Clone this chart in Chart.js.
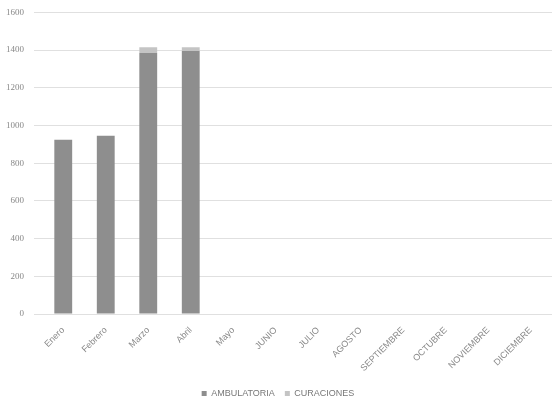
<!DOCTYPE html>
<html>
<head>
<meta charset="utf-8">
<script src="https://cdn.jsdelivr.net/npm/chart.js@4/dist/chart.umd.min.js"></script>
<style>
    html, body { margin: 0; padding: 0; background: #fff; overflow: hidden; }
    #wrap { width: 552px; height: 404px; overflow: hidden; }
    #chart { display: block; margin-top: -3px; }
</style>
</head>
<body>
<div id="wrap"><canvas id="chart" width="552" height="411"></canvas></div>
<script>
// Months as printed on the axis
const months = ['Enero', 'Febrero', 'Marzo', 'Abril', 'Mayo', 'JUNIO', 'JULIO', 'AGOSTO',
    'SEPTIEMBRE', 'OCTUBRE', 'NOVIEMBRE', 'DICIEMBRE'];

// Series values
const ambulatoria = [925, 945, 1385, 1395, null, null, null, null, null, null, null, null];
const curaciones = [0, 0, 30, 20, null, null, null, null, null, null, null, null];

const yMax = 1600;
const yStep = 200;

const grid = {
    color: 'rgba(0,0,0,0.12)',
    borderDash: [1, 3]
};

new Chart(document.getElementById('chart').getContext('2d'), {
    type: 'bar',
    data: {
        labels: months,
        datasets: [
            {
                label: 'AMBULATORIA',
                data: ambulatoria,
                backgroundColor: '#8e8e8e',
                barPercentage: 0.42,
                categoryPercentage: 1
            },
            {
                label: 'CURACIONES',
                data: curaciones,
                backgroundColor: '#c4c4c4',
                barPercentage: 0.42,
                categoryPercentage: 1
            }
        ]
    },
    options: {
        responsive: false,
        animation: false,
        layout: { padding: { left: 4, right: 0, top: 0, bottom: 0 } },
        plugins: {
            tooltip: { enabled: false },
            legend: {
                position: 'bottom',
                labels: {
                    boxWidth: 5,
                    boxHeight: 5,
                    padding: 10,
                    color: '#777',
                    font: { family: 'Liberation Sans', size: 9 }
                }
            }
        },
        scales: {
            x: {
                stacked: true,
                grid: { display: false },
                border: { display: false },
                ticks: {
                    color: '#888',
                    minRotation: 45,
                    maxRotation: 45,
                    autoSkip: false,
                    padding: 3,
                    font: { family: 'Liberation Sans', size: 9 }
                },
                afterFit: (scale) => { scale.height = 65; }
            },
            y: {
                stacked: true,
                min: 0,
                max: yMax,
                grid: grid,
                border: { display: false },
                ticks: {
                    stepSize: yStep,
                    color: '#888',
                    padding: 10,
                    font: { family: 'Liberation Serif', size: 9 },
                    callback: (v) => String(v)
                },
                afterFit: (scale) => { scale.width = 38; }
            }
        }
    }
});
</script>
</body>
</html>
